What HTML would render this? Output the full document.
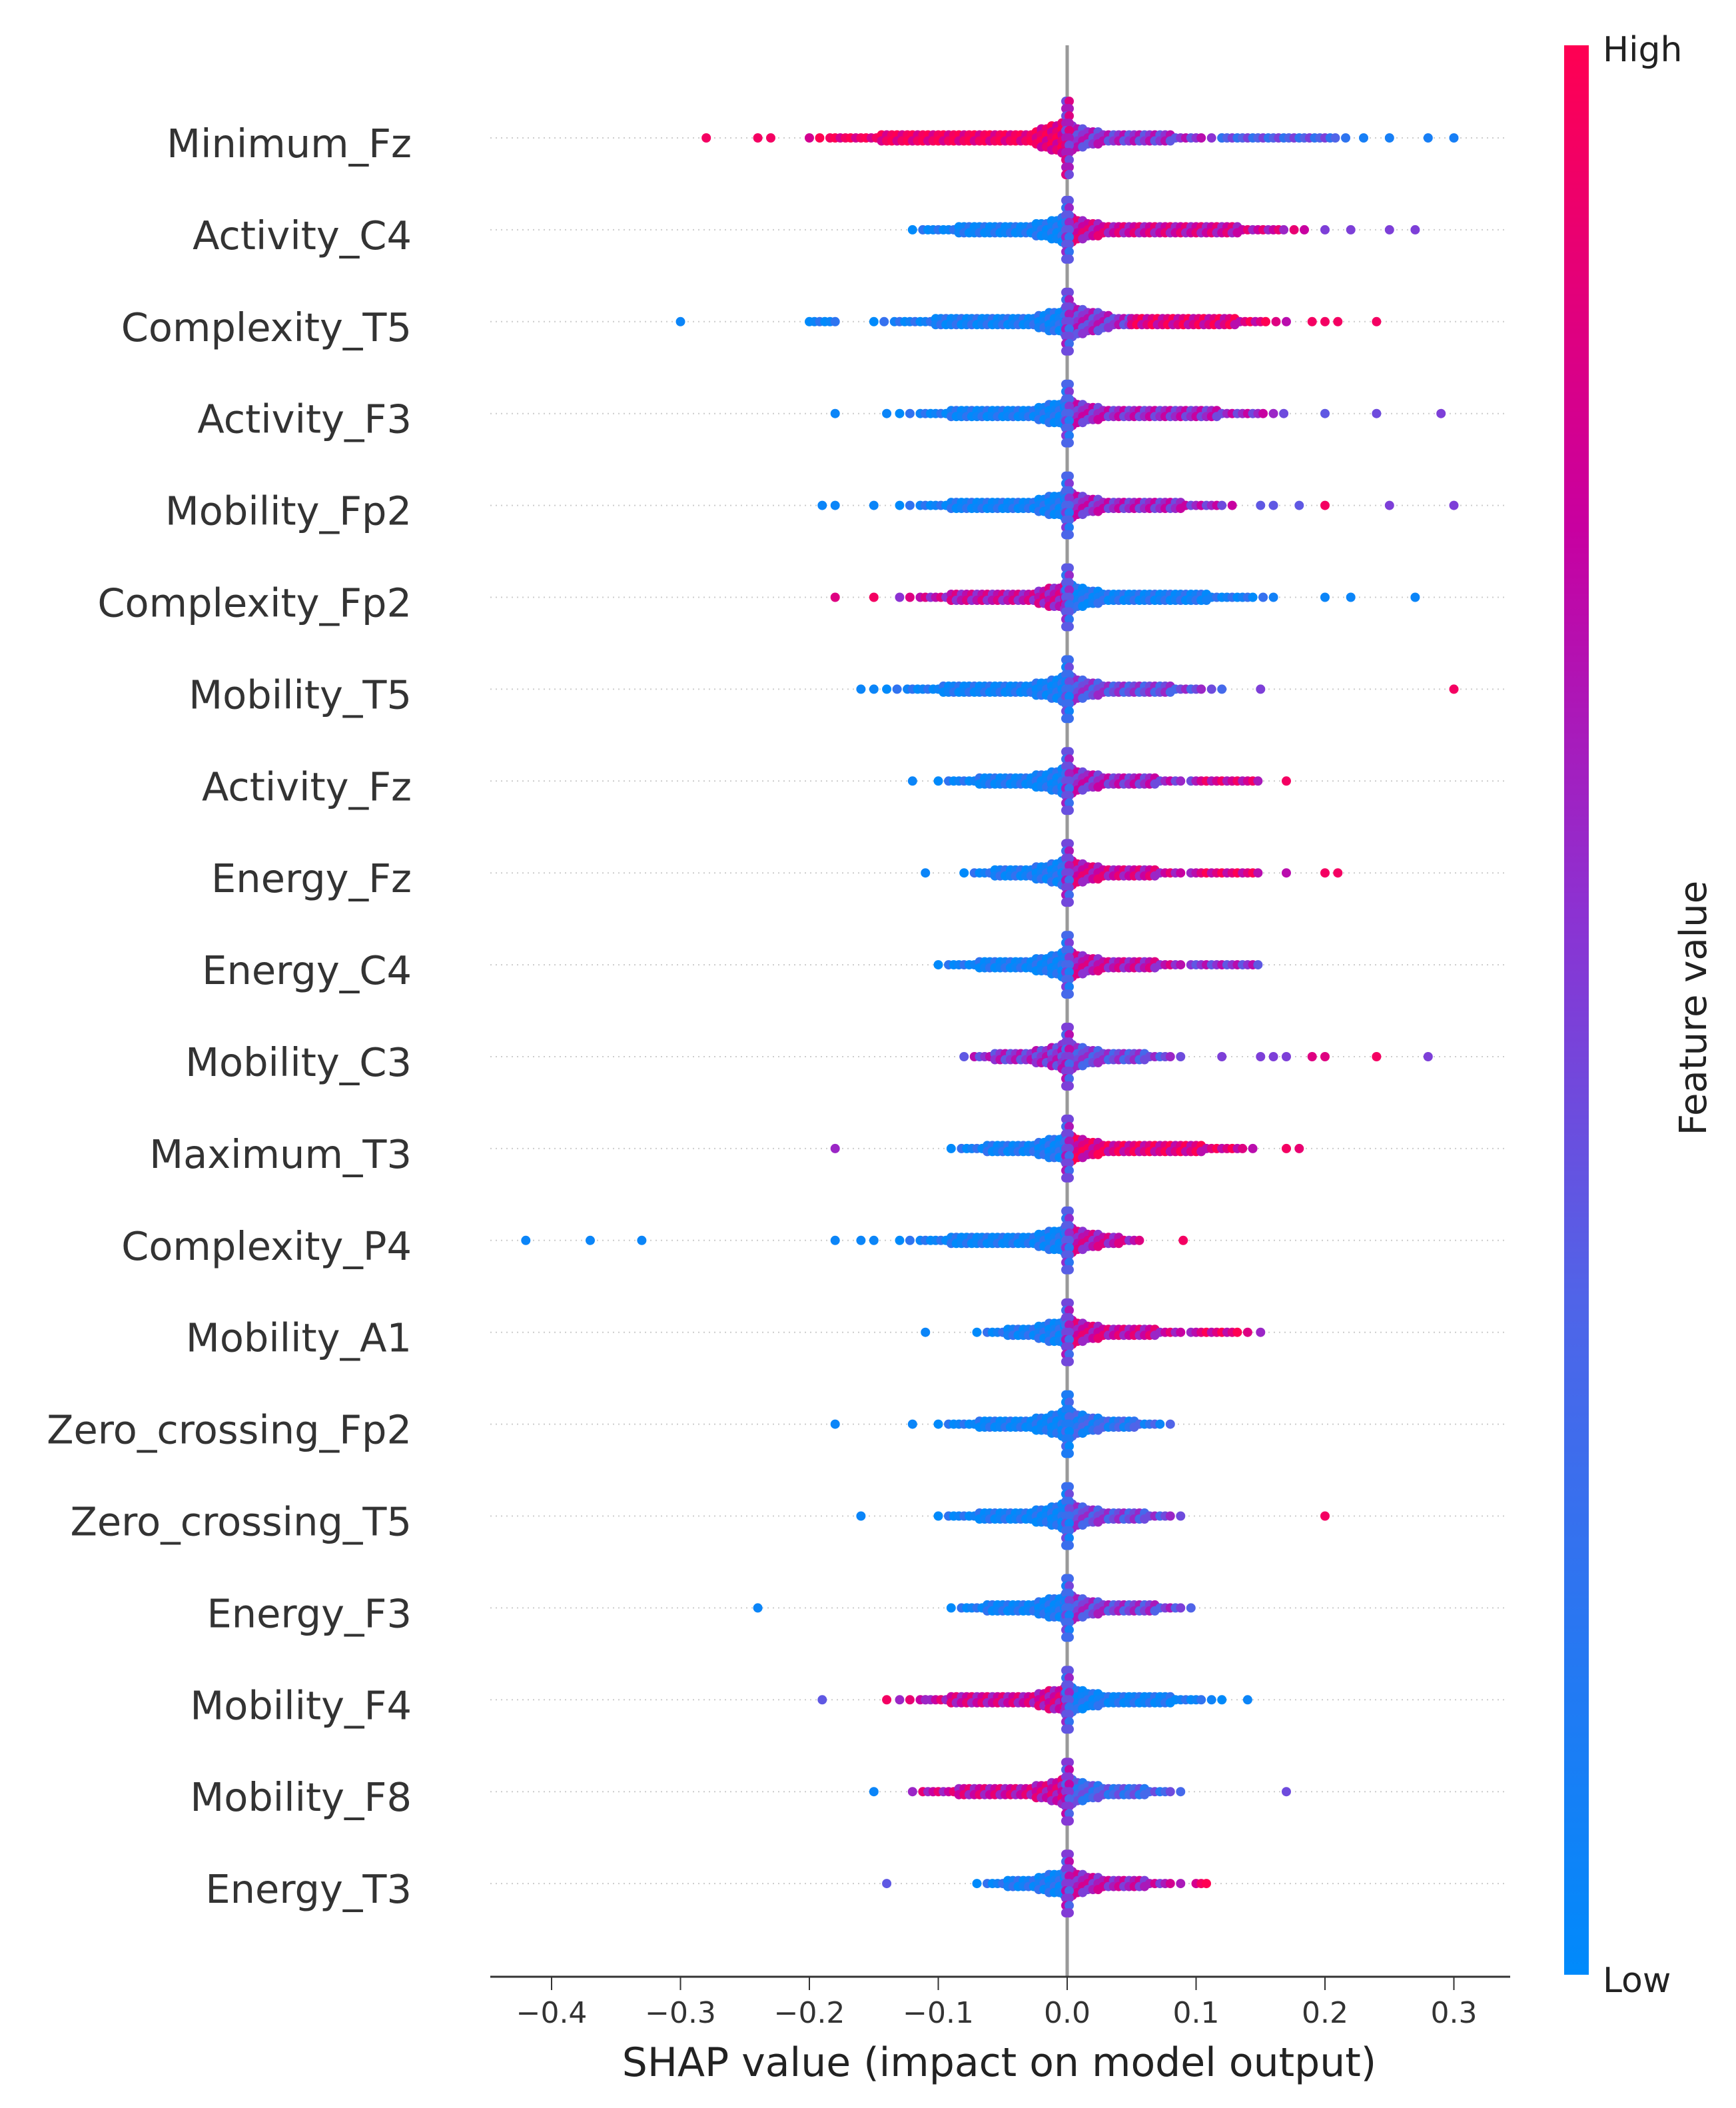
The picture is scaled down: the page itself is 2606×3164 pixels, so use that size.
<!DOCTYPE html>
<html><head><meta charset="utf-8">
<style>
html,body{margin:0;padding:0;background:#fff;}
svg{display:block;}
text{font-family:"DejaVu Sans","Liberation Sans",sans-serif;}
</style></head>
<body>
<svg id="chart" width="2606" height="3164" viewBox="0 0 2606 3164" xmlns="http://www.w3.org/2000/svg">
<defs>
<linearGradient id="cbgrad" x1="0" y1="1" x2="0" y2="0">
<stop offset="0" stop-color="rgb(0,138,251)"/>
<stop offset="0.35" stop-color="rgb(80,100,232)"/>
<stop offset="0.55" stop-color="rgb(140,50,210)"/>
<stop offset="0.75" stop-color="rgb(200,0,160)"/>
<stop offset="1" stop-color="rgb(255,0,82)"/>
</linearGradient>
</defs>
<g id="grid"></g>
<line x1="1602" y1="68" x2="1602" y2="2967" stroke="#999" stroke-width="5"/>
<g id="dots"></g>
<g id="labels"></g>
<g id="xaxis"></g>
<text x="1500" y="3116" font-size="60" text-anchor="middle" fill="#222">SHAP value (impact on model output)</text>
<rect x="2348" y="68" width="37" height="2896" fill="url(#cbgrad)"/>
<text x="2406" y="92" font-size="52" fill="#222">High</text>
<text x="2406" y="2990" font-size="52" fill="#222">Low</text>
<text x="0" y="0" font-size="56" fill="#222" text-anchor="middle" transform="translate(2561,1513) rotate(-90)">Feature value</text>
</svg>
<script>
const features = ["Minimum_Fz","Activity_C4","Complexity_T5","Activity_F3","Mobility_Fp2","Complexity_Fp2","Mobility_T5","Activity_Fz","Energy_Fz","Energy_C4","Mobility_C3","Maximum_T3","Complexity_P4","Mobility_A1","Zero_crossing_Fp2","Zero_crossing_T5","Energy_F3","Mobility_F4","Mobility_F8","Energy_T3"];
const xTicks = [-0.4,-0.3,-0.2,-0.1,0.0,0.1,0.2,0.3];
const xTickLabels = ["\u22120.4","\u22120.3","\u22120.2","\u22120.1","0.0","0.1","0.2","0.3"];
// bands: [startShap, endShap, featureValue(0..1), thickness]
const bands = [
 [[-0.2,-0.02,0.95,2],[-0.02,0,0.9,3],[0,0.12,0.55,2],[0.12,0.22,0.35,1]],
 [[-0.12,0,0.05,2],[0,0.19,0.75,2]],
 [[-0.2,-0.18,0.05,1],[-0.15,0,0.08,2],[0,0.05,0.55,3],[0.05,0.17,0.85,2]],
 [[-0.13,0,0.06,2],[0,0.17,0.6,2]],
 [[-0.13,0,0.06,2],[0,0.13,0.6,2]],
 [[-0.13,0,0.7,2],[0,0.16,0.08,2]],
 [[-0.14,0,0.06,2],[0,0.12,0.45,2]],
 [[-0.1,0,0.06,2],[0,0.1,0.6,2],[0.1,0.15,0.8,1]],
 [[-0.08,0,0.08,2],[0,0.1,0.75,2],[0.1,0.15,0.85,1]],
 [[-0.1,0,0.06,2],[0,0.1,0.7,2],[0.1,0.15,0.55,1]],
 [[-0.08,0,0.55,2],[0,0.09,0.45,2]],
 [[-0.09,0,0.08,2],[0,0.15,0.85,2]],
 [[-0.13,0,0.05,2],[0,0.06,0.7,2]],
 [[-0.07,0,0.08,2],[0,0.1,0.75,2],[0.1,0.14,0.85,1]],
 [[-0.1,0,0.05,2],[0,0.08,0.2,2]],
 [[-0.1,0,0.06,2],[0,0.09,0.45,2]],
 [[-0.09,0,0.06,2],[0,0.1,0.5,2]],
 [[-0.13,0,0.75,2],[0,0.12,0.06,2]],
 [[-0.12,0,0.75,2],[0,0.09,0.3,2]],
 [[-0.07,0,0.08,2],[0,0.09,0.65,2],[0.1,0.11,0.95,1]]
];
// outliers: [shap, featureValue]
const outliers = [
 [[-0.28,0.95],[-0.24,0.95],[-0.23,0.95],[0.23,0.1],[0.25,0.1],[0.28,0.1],[0.3,0.1]],
 [[0.2,0.5],[0.22,0.5],[0.25,0.5],[0.27,0.5]],
 [[-0.3,0.05],[0.19,0.95],[0.2,0.95],[0.21,0.95],[0.24,0.95]],
 [[-0.18,0.05],[-0.14,0.05],[0.2,0.4],[0.24,0.45],[0.29,0.5]],
 [[-0.19,0.05],[-0.18,0.05],[-0.15,0.05],[0.15,0.4],[0.16,0.4],[0.18,0.4],[0.2,0.95],[0.25,0.5],[0.3,0.5]],
 [[-0.18,0.85],[-0.15,0.95],[0.2,0.05],[0.22,0.05],[0.27,0.05]],
 [[-0.16,0.05],[-0.15,0.05],[0.15,0.5],[0.3,0.95]],
 [[-0.12,0.05],[0.17,0.95]],
 [[-0.11,0.05],[0.17,0.7],[0.2,0.95],[0.21,0.95]],
 [],
 [[0.12,0.5],[0.15,0.5],[0.16,0.5],[0.17,0.5],[0.19,0.85],[0.2,0.85],[0.24,0.95],[0.28,0.5]],
 [[-0.18,0.6],[0.17,0.95],[0.18,0.9]],
 [[-0.42,0.05],[-0.37,0.05],[-0.33,0.05],[-0.18,0.05],[-0.16,0.05],[-0.15,0.05],[0.09,0.95]],
 [[-0.11,0.05],[0.15,0.6]],
 [[-0.18,0.05],[-0.12,0.05]],
 [[-0.16,0.05],[0.2,0.95]],
 [[-0.24,0.05]],
 [[-0.19,0.4],[-0.14,0.95],[-0.11,0.6],[0.14,0.05]],
 [[-0.15,0.05],[0.17,0.45]],
 [[-0.14,0.4]]
];
// spike half-height (in dots) at zero per row
const spikes = [5,4,4,4,4,4,4,4,4,4,4,4,4,4,4,4,4,4,4,4];

const NS="http://www.w3.org/2000/svg";
const X0=1602, XS=1935;
const xScale = v => X0 + v*XS;
const Y0=207, YS=137.9;
const yScale = i => Y0 + i*YS;
const stops=[[0,[0,138,251]],[0.35,[80,100,232]],[0.55,[140,50,210]],[0.75,[200,0,160]],[1,[255,0,82]]];
function color(f){
  f=Math.max(0,Math.min(1,f));
  for(let k=1;k<stops.length;k++){
    if(f<=stops[k][0]){
      const a=stops[k-1],b=stops[k],t=(f-a[0])/(b[0]-a[0]);
      return "rgb("+a[1].map((c,j)=>Math.round(c+(b[1][j]-c)*t)).join(",")+")";
    }
  }
  return "rgb(255,0,82)";
}
const grid=document.getElementById("grid"), dots=document.getElementById("dots"), labels=document.getElementById("labels"), xaxis=document.getElementById("xaxis");
const R=7;
function dot(x,y,f){
  const c=document.createElementNS(NS,"circle");
  c.setAttribute("cx",x.toFixed(1));c.setAttribute("cy",y.toFixed(1));c.setAttribute("r",R);
  c.setAttribute("fill",color(f));
  
  
  dots.appendChild(c);
}
features.forEach((name,i)=>{
  const y=yScale(i);
  const g=document.createElementNS(NS,"line");
  g.setAttribute("x1",736);g.setAttribute("x2",2262);g.setAttribute("y1",y);g.setAttribute("y2",y);
  g.setAttribute("stroke","#ccc");g.setAttribute("stroke-width",2);g.setAttribute("stroke-dasharray","2 6");
  
  
  grid.appendChild(g);
  const t=document.createElementNS(NS,"text");
  t.setAttribute("x",618);t.setAttribute("y",y+29);t.setAttribute("font-size","59");t.setAttribute("text-anchor","end");t.setAttribute("fill","#333");
  t.textContent=name;
  
  
  labels.appendChild(t);
  bands[i].forEach(b=>{
    const [s,e,f,th]=b;
    const inner=Math.abs(s)<Math.abs(e)?s:e, outer=Math.abs(s)<Math.abs(e)?e:s;
    const span=Math.abs(outer-inner)||1;
    let n=0;
    for(let v=s; v<=e+1e-9; v+=0.004, n++){
      const near=Math.abs(v)<0.03 ? Math.round((0.03-Math.abs(v))/0.01) : 0;
      const frac=Math.abs(v-inner)/span;
      let cnt=th+near;
      if(frac>0.7 && near===0) cnt=Math.max(1,cnt-1);
      if(frac>0.9 && near===0 && n%2===1) continue;
      for(let k=0;k<cnt;k++){
        const off=(k-(cnt-1)/2)*9;
        const fv=f+((n+k)%3-1)*0.15;
        dot(xScale(v),y+off,fv);
      }
    }
  });
  const sp=spikes[i];
  for(let k=-sp;k<=sp;k++){
    const fv=bands[i][0][2]*0.5+bands[i][bands[i].length-1][2]*0.5;
    dot(xScale(0)-2,y+k*11,fv+(k%2)*0.2);
    dot(xScale(0)+3,y+k*11,fv-(k%2)*0.2);
  }
  outliers[i].forEach(o=>dot(xScale(o[0]),y,o[1]));
});
const al=document.createElementNS(NS,"line");
al.setAttribute("x1",736);al.setAttribute("x2",2267);al.setAttribute("y1",2967);al.setAttribute("y2",2967);
al.setAttribute("stroke","#333");al.setAttribute("stroke-width",3);


xaxis.appendChild(al);
xTicks.forEach((v,k)=>{
  const x=xScale(v);
  const tk=document.createElementNS(NS,"line");
  tk.setAttribute("x1",x);tk.setAttribute("x2",x);tk.setAttribute("y1",2967);tk.setAttribute("y2",2987);
  tk.setAttribute("stroke","#333");tk.setAttribute("stroke-width",2);
  
  
  xaxis.appendChild(tk);
  const tl=document.createElementNS(NS,"text");
  tl.setAttribute("x",x);tl.setAttribute("y",3036);tl.setAttribute("font-size","44");tl.setAttribute("text-anchor","middle");tl.setAttribute("fill","#333");
  tl.textContent=xTickLabels[k];
  
  
  xaxis.appendChild(tl);
});
</script>
</body></html>
